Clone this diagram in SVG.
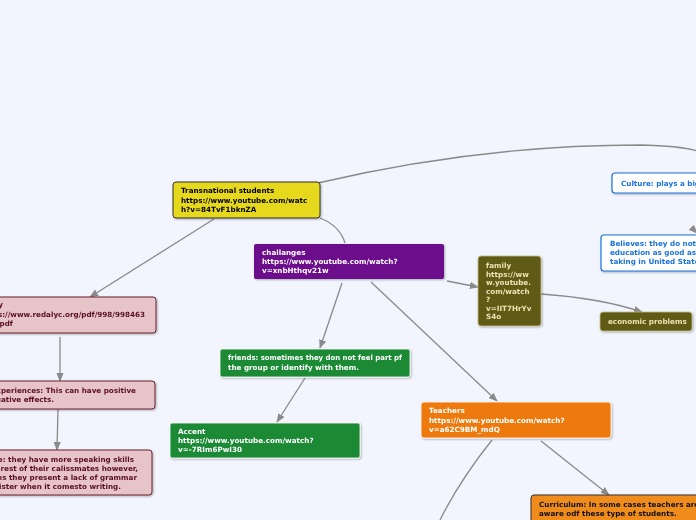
<svg xmlns="http://www.w3.org/2000/svg" width="696" height="520" viewBox="0 0 696 520">
<defs>
<marker id="ah" viewBox="0 0 10 10" refX="9" refY="5" markerWidth="7" markerHeight="7" orient="auto"><path d="M0,1 L10,5 L0,9 z" fill="#8a8a8a"/></marker>
<filter id="sh" x="-5%" y="-10%" width="110%" height="130%"><feDropShadow dx="1" dy="1" stdDeviation="0.8" flood-opacity="0.3"/></filter>
</defs>
<style>
text{font-family:"DejaVu Sans",Verdana,sans-serif;font-size:7.2px;font-weight:bold}
.c{fill:none;stroke:#8a8a8a;stroke-width:1.3}
.n{filter:url(#sh)}
.pk rect{fill:#e6c4c8;stroke:#6b1f2e;stroke-width:1}
.pk text{fill:#5a1020}
.gr rect{fill:#1a8a35;stroke:#fff;stroke-width:0.8}
.gr text,.pu text,.or text{fill:#fff}
.ol rect{fill:#5f5a14;stroke:#c8c08a;stroke-width:0.8}
.ol text{fill:#ece3b4}
.bl rect{fill:#fff;stroke:#1a73d9;stroke-width:1.2}
.bl text{fill:#1a73d9}
</style>
<rect width="696" height="520" fill="#f2f5fe"/>
<g id="connectors">
<path class="c" d="M214,219 L90,297" marker-end="url(#ah)"/>
<path class="c" d="M318,183 Q480,145 640,145 Q685,146 700,152"/>
<path class="c" d="M320,218 Q340,226 345,243"/>
<path class="c" d="M60,337 L60,381" marker-end="url(#ah)"/>
<path class="c" d="M58,409 L57,450" marker-end="url(#ah)"/>
<path class="c" d="M342,283 L320,348" marker-end="url(#ah)"/>
<path class="c" d="M371,282 L497,401" marker-end="url(#ah)"/>
<path class="c" d="M447,281 L478,287" marker-end="url(#ah)"/>
<path class="c" d="M541,294 Q600,298 642,312" marker-end="url(#ah)"/>
<path class="c" d="M305,378 L277,422" marker-end="url(#ah)"/>
<path class="c" d="M541,441 L609,495" marker-end="url(#ah)"/>
<path class="c" d="M492,440 Q460,480 440,520"/>
<path class="c" d="M693,229 L697,233" marker-end="url(#ah)"/>
</g>
<g id="transnational" class="n">
<rect x="173" y="182" width="147" height="36" rx="3" fill="#e6d81c" stroke="#333" stroke-width="1"/>
<text x="181" y="193">Transnational students</text>
<text x="181" y="202.5">https://www.youtube.com/watc</text>
<text x="181" y="212">h?v=84TvF1bknZA</text>
</g>
<g id="challanges" class="n pu">
<rect x="254" y="244" width="190" height="35" rx="2" fill="#6c0a8c"/>
<text x="262" y="255">challanges</text>
<text x="262" y="264">https://www.youtube.com/watch?</text>
<text x="262" y="273">v=xnbHthqv21w</text>
</g>
<g id="pink1" class="n pk">
<rect x="-6" y="297" width="162" height="36" rx="3"/>
<text x="3" y="307" text-anchor="end">Study</text>
<text x="145" y="317" text-anchor="end">https://www.redalyc.org/pdf/998/998463</text>
<text x="13" y="326" text-anchor="end">.pdf</text>
</g>
<g id="pink2" class="n pk">
<rect x="-6" y="381" width="161" height="28" rx="3"/>
<text x="136" y="393" text-anchor="end">Personal experiences: This can have positive</text>
<text x="54" y="402" text-anchor="end">and negative effects.</text>
</g>
<g id="pink3" class="n pk">
<rect x="-6" y="450" width="158" height="45" rx="3"/>
<text x="134" y="462" text-anchor="end">Language: they have more speaking skills</text>
<text x="138" y="471" text-anchor="end">than the rest of their calissmates however,</text>
<text x="137" y="480" text-anchor="end">sometimes they present a lack of grammar</text>
<text x="121" y="489" text-anchor="end">and register when it comesto writing.</text>
</g>
<g id="friends" class="n gr">
<rect x="220" y="349" width="190" height="28" rx="2"/>
<text x="228" y="360" textLength="174" lengthAdjust="spacingAndGlyphs">friends: sometimes they don not feel part pf</text>
<text x="228" y="369.5">the group or identify with them.</text>
</g>
<g id="accent" class="n gr">
<rect x="170" y="423" width="190" height="35" rx="2"/>
<text x="178" y="434">Accent</text>
<text x="178" y="443">https://www.youtube.com/watch?</text>
<text x="178" y="452">v=-7RIm6PwI30</text>
</g>
<g id="family" class="n ol">
<rect x="478" y="256" width="63" height="70" rx="3"/>
<text x="486" y="268">family</text>
<text x="486" y="276.5">https://ww</text>
<text x="486" y="285">w.youtube.</text>
<text x="486" y="293.5">com/watch</text>
<text x="486" y="302">?</text>
<text x="486" y="310.5">v=IIT7HrYv</text>
<text x="486" y="319">S4o</text>
</g>
<g id="economic" class="n ol">
<rect x="600" y="312" width="92" height="19" rx="3"/>
<text x="608" y="324">economic problems</text>
</g>
<g id="teachers" class="n or">
<rect x="421" y="402" width="190" height="36" rx="3" fill="#ee7a10" stroke="#fff" stroke-width="0.8"/>
<text x="429" y="413">Teachers</text>
<text x="429" y="422.5">https://www.youtube.com/watch?</text>
<text x="429" y="432">v=a62C9BM_mdQ</text>
</g>
<g id="curriculum" class="n">
<rect x="531" y="495" width="180" height="35" rx="3" fill="#f08c1e" stroke="#333" stroke-width="1"/>
<text x="539" y="507" fill="#111">Curriculum: In some cases teachers are not</text>
<text x="539" y="516" fill="#111">aware odf these type of students.</text>
</g>
<g id="culture" class="n bl">
<rect x="612" y="173" width="100" height="20" rx="3"/>
<text x="621" y="186">Culture: plays a big role</text>
</g>
<g id="believes" class="n bl">
<rect x="601" y="235" width="110" height="36" rx="3"/>
<text x="610" y="246">Believes: they do not consider</text>
<text x="610" y="255">education as good as the one</text>
<text x="610" y="263.5">taking in United States.</text>
</g>
</svg>
